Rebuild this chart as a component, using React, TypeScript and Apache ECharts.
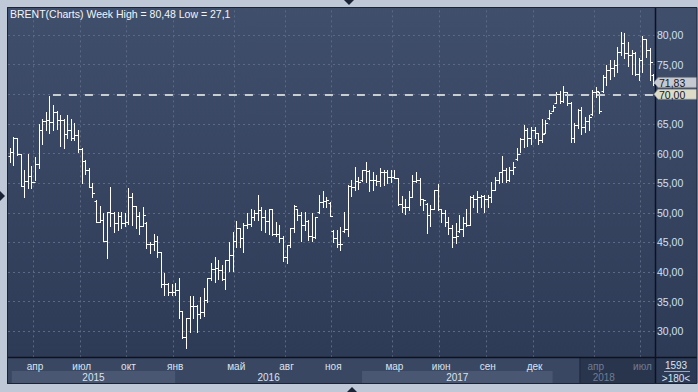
import React, { useEffect, useRef } from "react";
import * as echarts from "echarts";

// ---------- data ----------
const titleText = "BRENT(Charts) Week High = 80,48 Low = 27,1";
const firstWeek = "2015-02-09";
const weekCount = 180;
const barsTotal = "1593";
const barsShown = ">180<";

const openP = [
  59.6, 60.3, 62.6, 59.9, 54.5, 55.4, 56.2, 55.2, 58.2, 63.9,
  65.5, 65.7, 65.4, 67.0, 65.6, 65.6, 63.3, 63.9, 62.7, 63.1,
  60.7, 58.8, 57.2, 54.4, 52.0, 48.5, 48.7, 45.3, 50.1, 49.9,
  48.2, 49.5, 48.2, 48.5, 52.7, 51.1, 49.5, 47.8, 48.3, 44.7,
  44.7, 45.3, 43.4, 38.0, 38.0, 36.7, 36.7, 37.0, 33.4, 29.0,
  32.2, 34.2, 34.2, 32.9, 33.2, 35.3, 39.0, 40.5, 40.6, 40.3,
  38.8, 42.0, 42.9, 45.3, 47.4, 45.7, 47.9, 48.1, 49.3, 50.0,
  50.4, 49.3, 48.6, 50.6, 46.4, 46.5, 45.7, 42.6, 44.6, 47.4,
  50.6, 49.6, 47.9, 48.6, 46.1, 45.9, 50.2, 51.9, 52.0, 51.6,
  46.9, 45.7, 44.7, 47.0, 47.2, 54.5, 54.4, 55.4, 55.5, 57.2,
  57.1, 55.6, 55.6, 55.4, 56.8, 56.8, 56.0, 56.1, 55.8, 51.4,
  51.0, 51.0, 52.7, 55.4, 55.5, 52.3, 51.4, 49.6, 50.7, 53.8,
  50.7, 49.9, 48.5, 47.5, 45.9, 47.0, 47.2, 48.2, 47.9, 52.6,
  52.4, 52.6, 52.8, 52.4, 52.7, 53.8, 55.6, 56.8, 57.2, 55.6,
  57.2, 59.0, 60.0, 62.4, 64.0, 62.7, 64.0, 63.4, 62.2, 63.5,
  66.0, 67.2, 68.6, 70.0, 68.8, 70.3, 68.6, 62.7, 64.8, 67.3,
  64.5, 65.5, 66.6, 70.4, 70.3, 70.5, 72.9, 74.1, 74.5, 74.9,
  77.2, 78.7, 76.9, 76.6, 76.9, 73.5, 75.7, 79.4, 77.5, 73.3,
];
const highP = [
  61.0, 62.85, 62.6, 60.0, 57.3, 59.9, 57.9, 59.4, 65.0, 65.9,
  66.95, 69.7, 68.2, 67.2, 66.5, 65.9, 66.5, 65.8, 65.1, 64.0,
  61.0, 58.9, 57.5, 55.0, 52.2, 51.1, 49.9, 50.2, 54.3, 50.2,
  50.2, 50.2, 50.0, 54.2, 53.4, 51.2, 50.2, 51.0, 48.5, 45.1,
  46.5, 46.0, 43.4, 39.8, 38.1, 38.0, 38.1, 39.0, 33.4, 32.2,
  36.0, 36.0, 34.4, 35.8, 37.25, 39.05, 41.6, 42.6, 42.0, 41.2,
  42.0, 45.1, 46.8, 48.6, 47.4, 48.2, 49.9, 50.6, 50.5, 53.0,
  50.9, 50.5, 50.7, 50.7, 48.5, 47.9, 46.0, 44.6, 47.4, 51.3,
  50.7, 50.2, 50.2, 48.7, 49.9, 49.3, 53.0, 53.7, 52.7, 51.9,
  47.1, 47.1, 47.6, 50.2, 54.7, 55.5, 57.8, 56.1, 57.3, 58.5,
  57.2, 56.9, 56.4, 57.5, 57.2, 57.2, 57.3, 57.2, 55.8, 52.8,
  52.4, 53.6, 56.4, 56.9, 55.8, 52.4, 51.6, 51.3, 53.8, 54.8,
  50.7, 50.5, 49.3, 47.9, 48.2, 49.6, 49.3, 50.7, 52.8, 53.0,
  53.6, 53.0, 53.0, 53.0, 55.2, 56.1, 56.9, 59.5, 57.5, 57.8,
  58.5, 60.9, 62.6, 64.8, 64.25, 64.5, 64.4, 63.4, 65.9, 65.6,
  67.3, 68.2, 70.3, 70.6, 71.4, 70.4, 68.7, 65.1, 67.5, 67.8,
  66.1, 66.5, 70.7, 71.3, 70.4, 73.25, 74.9, 75.7, 75.7, 78.0,
  80.48, 80.4, 78.9, 77.5, 77.2, 76.1, 79.8, 79.4, 77.75, 73.5,
];
const lowP = [
  58.5, 58.1, 59.8, 54.5, 52.6, 54.1, 54.1, 55.5, 57.5, 61.6,
  64.0, 63.4, 64.0, 64.1, 61.3, 61.0, 62.6, 62.3, 62.2, 60.3,
  55.1, 56.5, 54.4, 52.7, 48.5, 48.5, 45.3, 42.3, 47.8, 46.8,
  47.1, 47.4, 47.7, 48.1, 47.9, 47.4, 46.5, 47.7, 44.0, 43.2,
  43.7, 42.6, 37.4, 36.1, 36.1, 36.1, 36.1, 32.2, 28.8, 27.1,
  29.9, 32.2, 29.9, 32.2, 32.5, 35.0, 38.7, 38.4, 38.9, 38.7,
  37.2, 40.1, 40.1, 44.2, 44.2, 43.3, 47.4, 47.7, 48.8, 48.8,
  47.1, 46.8, 46.5, 46.2, 46.1, 45.1, 41.8, 41.6, 44.3, 46.8,
  48.8, 45.3, 47.1, 45.4, 45.3, 45.7, 49.9, 51.0, 51.0, 49.5,
  45.1, 44.3, 43.7, 46.8, 46.0, 52.8, 53.8, 54.0, 55.4, 55.2,
  53.6, 53.8, 54.7, 54.5, 54.7, 55.1, 55.2, 55.8, 51.3, 50.2,
  49.8, 50.5, 52.7, 55.2, 51.3, 50.5, 46.6, 47.7, 50.7, 50.5,
  48.5, 47.7, 46.4, 44.3, 44.9, 46.8, 46.1, 47.7, 47.9, 51.0,
  50.2, 51.0, 50.2, 51.0, 51.9, 53.8, 55.0, 55.2, 55.2, 55.3,
  56.5, 58.9, 60.3, 61.15, 61.3, 61.6, 62.6, 61.6, 62.0, 63.4,
  65.9, 67.1, 68.5, 68.5, 68.75, 68.2, 62.0, 62.0, 64.25, 63.3,
  63.7, 64.0, 66.5, 69.6, 66.8, 70.3, 71.6, 72.5, 73.0, 73.8,
  76.6, 76.1, 74.7, 73.4, 73.25, 72.4, 73.8, 76.3, 72.4, 71.56,
];
const closeP = [
  60.3, 62.6, 59.9, 54.5, 55.4, 56.2, 55.2, 58.2, 63.9, 65.5,
  65.7, 65.4, 67.0, 65.6, 65.6, 63.3, 63.9, 62.7, 63.1, 60.7,
  58.8, 57.2, 54.4, 53.4, 48.5, 48.7, 45.3, 50.1, 49.9, 48.2,
  49.5, 48.2, 48.5, 52.7, 51.1, 49.5, 47.8, 49.6, 44.7, 44.7,
  45.3, 43.4, 38.0, 38.0, 36.7, 36.7, 37.0, 33.4, 29.0, 32.2,
  34.2, 34.2, 32.9, 33.2, 35.3, 39.0, 40.5, 40.6, 40.3, 38.8,
  42.0, 42.9, 45.3, 47.4, 45.7, 47.9, 48.1, 49.3, 50.0, 50.4,
  49.3, 48.6, 50.6, 46.4, 46.5, 45.7, 42.6, 44.6, 47.4, 51.1,
  49.6, 47.9, 48.6, 46.1, 45.9, 49.3, 51.9, 52.0, 52.2, 49.5,
  45.7, 44.7, 44.8, 47.2, 54.5, 54.4, 55.4, 55.2, 57.2, 57.1,
  55.6, 55.6, 55.4, 56.8, 56.8, 56.0, 56.1, 55.8, 51.4, 51.0,
  51.0, 52.7, 55.4, 55.5, 52.3, 52.2, 49.6, 50.7, 53.8, 50.7,
  49.9, 48.5, 47.5, 45.9, 46.1, 47.2, 48.2, 47.9, 52.6, 52.4,
  52.6, 52.8, 52.4, 52.7, 53.8, 55.6, 56.8, 57.2, 55.6, 57.2,
  57.8, 60.0, 62.4, 64.0, 62.7, 64.0, 63.5, 62.2, 63.3, 65.2,
  66.9, 67.8, 70.0, 68.8, 70.3, 68.6, 62.7, 64.8, 67.3, 64.5,
  65.5, 66.2, 70.4, 70.6, 67.2, 72.9, 74.1, 74.5, 74.9, 77.2,
  78.7, 76.9, 76.6, 76.9, 73.5, 75.7, 79.4, 77.5, 75.5, 71.83,
];

const lastPrice = 71.83;
const levelPrice = 70;
const levelStartWeek = 12;
const yMin = 25;
const yMax = 85;
const yStep = 5;

// month tick labels: [month start, label]
const monthTicks: [string, string][] = [
  ["2015-04-01", "апр"], ["2015-07-01", "июл"], ["2015-10-01", "окт"],
  ["2016-01-01", "янв"], ["2016-05-01", "май"], ["2016-08-01", "авг"],
  ["2016-11-01", "ноя"], ["2017-03-01", "мар"], ["2017-06-01", "июн"],
  ["2017-09-01", "сен"], ["2017-12-01", "дек"], ["2018-04-01", "апр"],
  ["2018-07-01", "июл"],
];
const yearLabels = ["2015", "2016", "2017", "2018"];
const shadedFromWeek = "2018-02-26";

// ---------- helpers ----------
const DAY = 86400000;
const t0 = Date.parse(firstWeek + "T00:00:00Z");
const weeks: string[] = [];
for (let i = 0; i < weekCount; i++) {
  weeks.push(new Date(t0 + i * 7 * DAY).toISOString().slice(0, 10));
}
const weekOf = (date: string) => {
  const t = Date.parse(date + "T00:00:00Z");
  return weeks.findIndex((w) => {
    const s = Date.parse(w + "T00:00:00Z");
    return s <= t && t < s + 7 * DAY;
  });
};
const shadedFrom = weeks.indexOf(shadedFromWeek);
const tickMap = new Map<number, string>();
monthTicks.forEach(([d, n]) => {
  const i = weekOf(d);
  if (i >= 0) tickMap.set(i, n);
});

const FONT = "'Liberation Sans', Arial, sans-serif";
const LABEL = "#dbe3ef";
const DIM = "#707c93";

export default function App() {
  const ref = useRef<HTMLDivElement>(null);
  useEffect(() => {
    if (!ref.current) return;
    const chart = echarts.init(ref.current, undefined, { renderer: "svg" });
    const data = weeks.map((w, i) => [i, openP[i], closeP[i], lowP[i], highP[i]]);
    const fmt = (v: number) => v.toFixed(2).replace(".", ",");

    chart.setOption({
      animation: false,
      backgroundColor: {
        type: "linear", x: 0, y: 0, x2: 0, y2: 1,
        colorStops: [
          { offset: 0, color: "#404f6c" },
          { offset: 1, color: "#2c3955" },
        ],
      },
      grid: { left: 8, right: 43, top: 5.37, bottom: 31.07 },
      xAxis: [
        {
          type: "category", data: weeks, boundaryGap: true,
          axisLine: { show: false }, axisTick: { show: false },
          axisLabel: { show: false },
          splitLine: {
            show: true,
            interval: (i: number) => tickMap.has(i),
            lineStyle: { color: "#5b6985", type: [2, 3], width: 1 },
          },
        },
        {
          type: "category", data: weeks, boundaryGap: true, position: "bottom", z: 5,
          axisLine: { show: false }, axisTick: { show: false },
          splitLine: { show: false },
          axisLabel: {
            interval: (i: number) => tickMap.has(i),
            formatter: (_v: string, i: number) => {
              const n = tickMap.get(i) || "";
              return i >= shadedFrom ? `{d|${n}}` : n;
            },
            margin: 0,
            color: LABEL,
            fontFamily: FONT,
            fontSize: 10,
            lineHeight: 10,
            padding: [1, 0, 0, 0],
            rich: { d: { color: DIM, fontFamily: FONT, fontSize: 10, lineHeight: 10 } },
          },
        },
      ],
      yAxis: {
        type: "value", position: "right", min: yMin, max: yMax, interval: yStep,
        axisLine: { show: false }, axisTick: { show: false },
        axisLabel: {
          margin: 2, color: "#cfe0f6", fontFamily: FONT, fontSize: 10.5,
          // the 70,00 tick is covered by the level box in the reference
          formatter: (v: number) => (v === levelPrice ? "" : fmt(v)),
          showMinLabel: false, showMaxLabel: false,
        },
        splitLine: { lineStyle: { color: "#5b6985", type: [2, 3], width: 1 } },
      },
      series: [
        {
          type: "custom",
          name: "BRENT",
          data,
          encode: { x: 0, y: [1, 2, 3, 4] },
          clip: true,
          renderItem: (_p: any, api: any) => {
            const i = api.value(0);
            const o = api.coord([i, api.value(1)]);
            const c = api.coord([i, api.value(2)]);
            const l = api.coord([i, api.value(3)]);
            const h = api.coord([i, api.value(4)]);
            const x = Math.round(o[0]) + 0.5;
            const st = { stroke: "#ffffff", lineWidth: 1 };
            const r = (y: number) => Math.round(y) + 0.5;
            return {
              type: "group",
              children: [
                { type: "line", shape: { x1: x, y1: Math.round(h[1]), x2: x, y2: Math.round(l[1]) + 1 }, style: st },
                { type: "line", shape: { x1: x - 2, y1: r(o[1]), x2: x, y2: r(o[1]) }, style: st },
                { type: "line", shape: { x1: x, y1: r(c[1]), x2: x + 2.5, y2: r(c[1]) }, style: st },
              ],
            };
          },
          markLine: {
            silent: true,
            symbol: "none",
            label: { show: false },
            lineStyle: { color: "#c8ccd3", width: 2, type: [8, 8] },
            data: [[{ coord: [weeks[levelStartWeek], levelPrice] }, { coord: [weeks[weekCount - 1], levelPrice] }]],
          },
        },
      ],
    });

    const px = (i: number, v: number) => chart.convertToPixel({ gridIndex: 0 }, [i, v]) as number[];
    const half = (px(1, 50)[0] - px(0, 50)[0]) / 2;
    const plotL = 8, plotR = 655, axisTop = 357, axisBot = 383;
    const els: any[] = [];

    // x axis area
    els.push({ type: "rect", z: 1, shape: { x: plotL, y: axisTop, width: plotR - plotL, height: axisBot - axisTop }, style: { fill: "#3a4763" } });
    // year bands & labels
    const yStarts = yearLabels.map((y, k) => (k === 0 ? 0 : weekOf(`${y}-01-01`)));
    yearLabels.forEach((y, k) => {
      const x0 = k === 0 ? px(0, 50)[0] + 2 : px(yStarts[k], 50)[0];
      const x1 = k === yearLabels.length - 1 ? plotR : px(yStarts[k + 1], 50)[0];
      if (k % 2 === 0 && k < yearLabels.length - 1) {
        els.push({ type: "rect", z: 1, shape: { x: x0, y: 371, width: x1 - x0, height: 12 }, style: { fill: "#4a5772" } });
      }
      els.push({
        type: "text", z: 6, x: (x0 + x1) / 2, y: 377.5,
        style: { text: y, fill: k === yearLabels.length - 1 ? DIM : LABEL, font: `10px ${FONT}`, lineHeight: 10, align: "center", verticalAlign: "middle" },
      });
    });
    // shaded tail of the axis
    const sx = px(shadedFrom, 50)[0] - half;
    els.push({ type: "rect", z: 1, shape: { x: sx, y: axisTop + 1, width: plotR - sx, height: axisBot - axisTop - 1 }, style: { fill: "#29354d" } });
    els.push({ type: "line", z: 2, shape: { x1: sx + 0.5, y1: axisTop + 1, x2: sx + 0.5, y2: axisBot }, style: { stroke: "#1f293d", lineWidth: 1 } });

    // black axis lines
    els.push({ type: "line", z: 8, shape: { x1: plotL, y1: axisTop + 0.5, x2: 697, y2: axisTop + 0.5 }, style: { stroke: "#0c1220", lineWidth: 1.5 } });
    els.push({ type: "line", z: 8, shape: { x1: plotR + 0.5, y1: 8, x2: plotR + 0.5, y2: axisBot }, style: { stroke: "#0c1220", lineWidth: 1.5 } });

    // bottom-right counter box
    els.push({ type: "text", z: 8, x: 676, y: 365, style: { text: barsTotal, fill: LABEL, font: `10px ${FONT}`, lineHeight: 10, align: "center", verticalAlign: "middle" } });
    els.push({ type: "line", z: 8, shape: { x1: 664, y1: 371.5, x2: 690, y2: 371.5 }, style: { stroke: "#9aa6ba", lineWidth: 1 } });
    els.push({ type: "text", z: 8, x: 676, y: 378, style: { text: barsShown, fill: LABEL, font: `10px ${FONT}`, lineHeight: 10, align: "center", verticalAlign: "middle" } });

    // price boxes on the right axis
    const box = (v: number, fill: string, dy: number) => {
      const y = px(0, v)[1] + dy;
      els.push({ type: "polygon", z: 9, shape: { points: [[654, y], [658, y - 5], [697, y - 5], [697, y + 5], [658, y + 5]] }, style: { fill, stroke: "#8d929c", lineWidth: 0.6 } });
      els.push({ type: "text", z: 10, x: 659, y: y + 0.5, style: { text: fmt(v), fill: "#15181e", font: `10.5px ${FONT}`, lineHeight: 10, align: "left", verticalAlign: "middle" } });
    };
    box(levelPrice, "#dddcc6", 0);
    box(lastPrice, "#c6c9cf", -1);

    // frame
    const frame = "#bfc8d6";
    els.push({ type: "rect", z: 20, shape: { x: 0, y: 0, width: 698, height: 7 }, style: { fill: frame } });
    els.push({ type: "rect", z: 20, shape: { x: 0, y: 0, width: 7, height: 392 }, style: { fill: frame } });
    els.push({ type: "rect", z: 20, shape: { x: 0, y: 384, width: 698, height: 8 }, style: { fill: frame } });
    els.push({ type: "rect", z: 20, shape: { x: 697, y: 0, width: 1, height: 392 }, style: { fill: frame } });
    els.push({ type: "rect", z: 21, shape: { x: 7.5, y: 7.5, width: 689.5, height: 376 }, style: { fill: "none", stroke: "#1b2436", lineWidth: 1 } });
    // frame arrows
    els.push({ type: "polygon", z: 22, shape: { points: [[344, 0], [354, 0], [349, 5]] }, style: { fill: "#1b2436" } });
    els.push({ type: "polygon", z: 22, shape: { points: [[0, 191], [0, 201], [5, 196]] }, style: { fill: "#1b2436" } });
    els.push({ type: "polygon", z: 22, shape: { points: [[347, 392], [357, 392], [352, 387]] }, style: { fill: "#1b2436" } });

    // title
    els.push({ type: "text", z: 22, x: 10, y: 14, style: { text: titleText, fill: "#f2f5fa", font: `10.5px ${FONT}`, align: "left", verticalAlign: "middle" } });

    chart.setOption({ graphic: { elements: els } });

    return () => chart.dispose();
  }, []);

  return (
    <div style={{ position: "absolute", left: 0, top: 0, width: 698, height: 392 }}>
      <div ref={ref} style={{ width: 698, height: 392 }} />
    </div>
  );
}
